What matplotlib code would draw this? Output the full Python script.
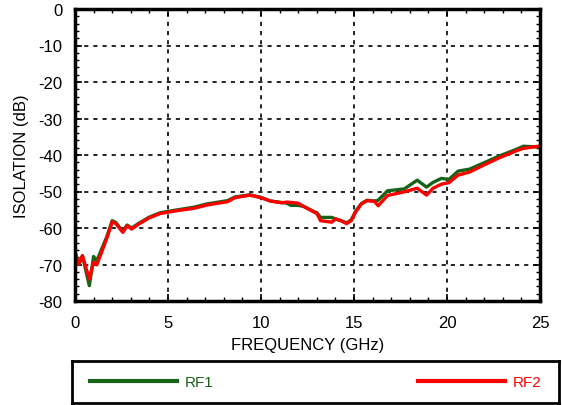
import numpy as np
import matplotlib
matplotlib.use("Agg")
import matplotlib.pyplot as plt
from matplotlib.ticker import MultipleLocator

plt.rcParams['font.family'] = ['Liberation Sans', 'DejaVu Sans']
plt.rcParams['axes.unicode_minus'] = False

# frequency points (GHz)
freq = [0, 0.2, 0.4, 0.77, 1.0, 1.17, 1.7, 2.0, 2.2, 2.57, 2.8, 3.05, 3.4, 4.0,
        4.6, 5.3, 6.4, 7.1, 8.2, 8.6, 9.4, 10.0, 10.5, 11.1, 11.4, 11.6, 12.0,
        12.3, 12.8, 13.0, 13.2, 13.8, 14.0, 14.3, 14.6, 14.85, 15.1, 15.4, 15.7,
        16.1, 16.3, 16.8, 17.7, 18.4, 18.9, 19.25, 19.7, 20.1, 20.6, 21.2, 22.0,
        22.8, 23.8, 24.1, 24.9, 25.0]

# isolation (dB)
rf1 = [-66.6, -69.9, -67.6, -75.8, -67.8, -69.0, -62.5, -58.0, -58.5, -61.0,
       -59.2, -60.0, -58.8, -57.0, -55.8, -55.2, -54.3, -53.4, -52.5, -51.5,
       -50.9, -51.6, -52.6, -53.0, -53.2, -53.8, -53.8, -54.1, -55.4, -55.8,
       -57.1, -57.1, -57.5, -58.0, -58.6, -57.8, -55.3, -53.3, -52.4, -52.6,
       -52.4, -49.8, -49.3, -46.9, -48.8, -47.5, -46.4, -46.7, -44.4, -43.9,
       -42.1, -40.3, -38.3, -37.6, -37.8, -37.7]
rf2 = [-66.6, -69.9, -67.6, -74.0, -69.4, -70.1, -63.0, -58.3, -58.8, -61.2,
       -59.4, -60.3, -59.0, -57.2, -56.0, -55.4, -54.6, -53.7, -52.8, -51.7,
       -51.0, -51.7, -52.6, -53.1, -52.9, -53.0, -53.2, -54.1, -55.5, -56.0,
       -58.0, -58.4, -57.5, -58.0, -58.8, -58.0, -55.5, -53.4, -52.5, -52.7,
       -53.9, -51.1, -50.1, -49.1, -51.0, -49.1, -48.0, -47.6, -45.5, -44.7,
       -42.7, -40.8, -38.7, -38.2, -37.6, -37.6]

green = '#176317'
red = '#ff0000'

fig = plt.figure(figsize=(5.62, 4.06), dpi=100)
ax = fig.add_axes([75/562, 1-302/406, 465/562, 292/406])

l1, = ax.plot(freq, rf1, color=green, lw=2.4, label='RF1')
l2, = ax.plot(freq, rf2, color=red, lw=2.4, label='RF2')

ax.set_xlim(0, 25)
ax.set_ylim(-80, 0)
ax.xaxis.set_major_locator(MultipleLocator(5))
ax.xaxis.set_minor_locator(MultipleLocator(1))
ax.yaxis.set_major_locator(MultipleLocator(10))
ax.yaxis.set_minor_locator(MultipleLocator(2))
ax.tick_params(which='both', direction='in', top=True, right=True, labelsize=12)
ax.tick_params(which='major', length=5, width=1.2)
ax.tick_params(axis='x', which='major', pad=10)
ax.tick_params(axis='y', which='major', pad=9)
ax.tick_params(which='minor', length=3, width=1)
ax.grid(True, which='major', color='black', ls=(0, (2.5, 3)), lw=1.2)
for s in ax.spines.values():
    s.set_linewidth(2.5)

ax.set_xlabel('FREQUENCY (GHz)', fontsize=12, labelpad=5)
ax.set_ylabel('ISOLATION (dB)', fontsize=12, labelpad=7)

# legend box below the plot
lax = fig.add_axes([72/562, 2/406, 487/562, 42/406])
lax.set_xticks([])
lax.set_yticks([])
for s in lax.spines.values():
    s.set_linewidth(2)
leg = lax.legend(handles=[l1, l2], ncol=2, mode='expand', loc='center',
                 bbox_to_anchor=(18/487, 0, 1-36/487, 1),
                 fontsize=11, handlelength=5.7, labelcolor='linecolor',
                 frameon=False, borderpad=0, borderaxespad=0, handletextpad=0.5)
for h in leg.legend_handles:
    h.set_linewidth(3)

fig.savefig('out.png', dpi=100)
